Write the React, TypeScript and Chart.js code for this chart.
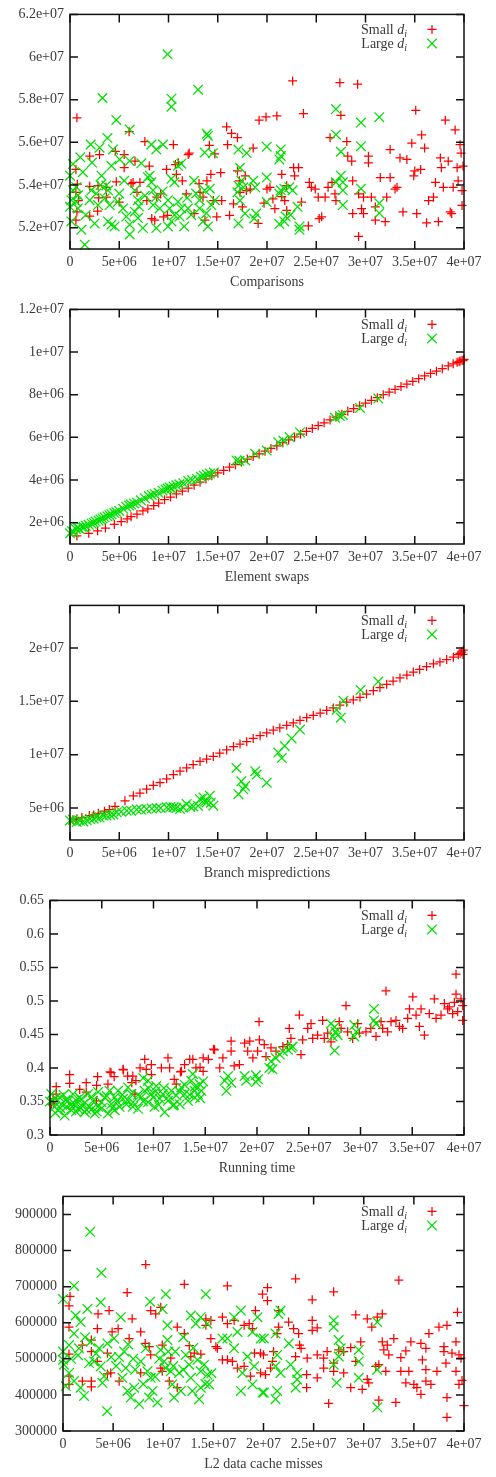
import React, { useEffect, useRef } from 'react';
import { Chart, registerables } from 'chart.js';

Chart.register(...registerables);

// ---------- shared axis data (x in units of 1e6) ----------
const xTicks = [0, 5, 10, 15, 20, 25, 30, 35, 40];
const xTickLabels = ['0', '5e+06', '1e+07', '1.5e+07', '2e+07', '2.5e+07', '3e+07', '3.5e+07', '4e+07'];
const seriesNames = ['Small', 'Large'];

// ---------- Panel 1: Comparisons (y in 1e6) ----------
const cmpYTicks = [52, 54, 56, 58, 60, 62];
const cmpYLabels = ['5.2e+07', '5.4e+07', '5.6e+07', '5.8e+07', '6e+07', '6.2e+07'];
const cmpSmall: number[][] = [
  [0.7,57.15],[0.6,54.73],[0.75,54.04],[0.6,53.66],[0.85,53.27],[0.7,52.74],[0.6,52.35],
  [2.0,55.35],[2.0,53.94],[2.0,52.54],[2.9,53.4],[2.8,52.78],[3.0,55.43],[2.85,53.97],
  [3.65,53.89],[3.7,53.43],[4.6,55.58],[4.7,54.15],[5.0,53.2],[5.5,55.43],[5.5,54.81],[6.0,56.5],[6.2,54.07],
  [6.6,55.12],[6.4,54.12],[6.8,53.66],[7.1,54.12],[7.6,56.04],[7.8,53.27],[8.05,54.89],
  [8.3,52.43],[8.6,52.35],[8.8,53.43],[9.2,53.58],[9.8,54.73],[9.5,52.51],
  [9.9,52.58],[10.5,55.89],[10.7,54.96],[10.8,54.5],[11.0,55.04],[11.4,54.2],[12.1,55.5],[11.8,53.58],
  [12.0,55.43],[12.6,52.66],[13.1,54.07],[13.2,53.66],[13.5,53.43],[13.9,54.2],[13.7,52.35],[14.15,55.86],[14.3,54.5],[14.55,53.27],[14.9,52.51],[14.7,55.46],
  [15.3,54.58],[15.4,53.27],[15.9,56.73],[16.0,55.89],[16.2,52.58],[16.4,56.42],[16.6,53.12],[17.0,56.22],[17.2,54.2],[17.0,54.66],[17.26,53.66],
  [17.5,52.97],[17.8,54.43],[17.9,53.74],[18.3,53.81],[18.6,55.73],[19.1,52.2],[19.2,57.04],[19.9,57.19],[19.7,53.15],[20.0,53.81],
  [20.3,53.89],[20.6,53.35],[20.8,52.89],[21.0,57.24],[21.5,54.5],[21.5,53.46],[21.8,53.27],[22.0,52.81],[22.0,53.97],
  [22.6,58.88],[22.7,54.81],[22.8,54.43],[23.2,54.81],[23.7,57.35],[23.5,53.2],[24.2,52.08],[24.3,54.12],[24.5,53.89],
  [24.9,53.81],[25.2,53.43],[25.3,52.43],[25.55,52.51],[25.9,53.43],[26.2,53.89],[26.4,56.22],[26.6,54.12],
  [26.9,53.58],[27.0,53.27],[27.4,58.8],[27.5,57.27],[28.1,56.04],[28.2,55.35],[28.6,55.12],[28.7,54.2],[28.7,52.66],
  [29.2,58.73],[29.3,51.59],[29.3,53.58],[29.6,52.89],[29.8,52.66],[29.8,53.43],[30.3,55.35],[30.3,55.04],[30.6,53.43],[31.0,52.35],[31.0,52.97],
  [31.5,54.35],[32.0,52.28],[32.15,53.43],[32.5,55.66],[32.5,54.35],[33.0,53.81],[33.2,53.89],[33.5,55.27],
  [33.8,52.74],[34.2,55.2],[34.7,55.96],[34.9,54.43],[35.0,54.66],[35.2,52.66],[35.1,57.5],[35.6,54.73],
  [35.7,56.35],[36.0,55.73],[36.2,52.23],[36.4,53.27],[36.9,53.43],[37.1,54.12],[37.4,52.28],[37.6,55.27],[37.7,54.81],[37.9,53.89],
  [38.1,57.04],[38.4,55.12],[38.6,52.74],[38.75,52.66],[38.9,53.89],[39.1,56.58],[39.3,54.81],[39.4,54.2],[39.6,55.89],[39.7,55.5],[39.8,53.74],[39.9,54.89],[39.8,53.04]
];
const cmpLarge: number[][] = [
  [9.9,60.13],[13.0,58.47],[3.3,58.08],[10.3,58.05],[10.3,57.67],[4.7,57.05],[6.06,56.6],[13.9,56.4],[14.0,56.3],[3.8,56.2],
  [2.1,55.9],[3.0,55.75],[8.26,55.9],[9.44,55.9],[8.76,55.67],[4.37,55.67],[13.67,55.52],[1.05,55.3],[0.3,54.98],[2.23,55.05],
  [5.04,55.2],[4.2,54.9],[6.06,55.13],[7.24,55.02],[11.3,55.0],[14.5,55.49],[1.3,54.6],[0,54.44],[3.2,54.44],[8.1,54.44],
  [8.26,54.13],[10.3,54.29],[10.6,54.13],[10.96,54.9],
  [0.64,53.9],[0.3,53.75],[0.81,53.52],[0.14,53.29],[0.64,53.21],[0,52.98],[0.81,52.9],[0.14,52.29],[1.15,51.9],[1.5,51.2],
  [2.17,53.75],[2.0,53.29],[2.67,53.6],[2.84,53.06],[3.69,53.98],[3.86,53.75],[3.52,53.37],[4.03,53.06],[4.2,52.14],[4.53,52.06],
  [3.86,52.29],[4.87,53.21],[5.38,52.9],[5.72,52.52],[6.06,52.14],[6.06,51.68],[6.57,53.75],[6.9,53.29],[6.57,52.75],[6.9,52.45],
  [7.4,51.98],[7.9,54.37],[8.43,53.75],[8.76,53.44],[8.43,53.06],[9.1,52.9],[8.76,51.98],[9.95,53.29],[10.1,52.9],[10.6,52.6],
  [10.3,52.29],[9.95,52.06],[10.96,53.21],[11.3,52.9],[11.13,52.52],[11.98,52.9],[12.3,52.6],[11.6,52.06],[12.8,53.6],[13.16,53.29],
  [13.67,53.75],[13.16,52.9],[13.84,52.68],[13.5,52.29],[14.0,52.06],[14.35,53.06],[14.7,53.29],[14.2,53.83],
  [1.6,52.6],[2.5,52.2],[3.1,54.0],[5.0,53.6],[5.5,54.2],[7.0,53.0],[7.6,53.5],[9.4,53.7],[11.9,53.4],[12.6,54.2],
  [17.1,55.66],[17.26,54.81],[17.4,54.2],[17.1,53.97],[17.0,53.66],[17.26,53.27],[17.6,53.89],[17.77,52.66],[17.1,52.2],[17.94,55.5],
  [18.6,54.2],[18.8,53.89],[18.9,52.66],[18.7,52.43],[19.97,55.8],[19.97,54.35],[19.97,53.2],
  [21.4,55.67],[21.4,55.36],[21.25,55.2],[21.4,53.75],[21.25,53.6],[21.76,53.83],[22.27,53.9],[22.6,53.75],[21.9,52.52],[21.76,52.29],
  [21.25,52.17],[22.4,52.6],[23.1,52.98],[23.3,52.06],[23.3,51.9],[27.0,57.56],[27.0,56.36],[27.5,55.56],[27.0,54.13],[27.5,54.44],
  [27.7,54.13],[27.7,53.75],[27.7,53.06],[29.54,56.93],[29.54,55.82],[29.54,53.83],[31.4,57.18],[31.4,53.14],[31.4,52.68]
];

// ---------- Panel 2: Element swaps (y in 1e6) ----------
const swapYTicks = [2, 4, 6, 8, 10, 12];
const swapYLabels = ['2e+06', '4e+06', '6e+06', '8e+06', '1e+07', '1.2e+07'];
const swapSmall: number[][] = [
  [0.7,1.38],[1.9,1.5],[2.8,1.62],[3.6,1.75],[4.5,1.92],[5.2,2.05],[5.8,2.18],[6.2,2.28],[6.8,2.4],[7.4,2.55],
  [7.9,2.65],[8.5,2.8],[9.0,2.92],[9.6,3.08],[10.2,3.2],[10.8,3.35],[11.4,3.48],[12.0,3.62],[12.6,3.76],[13.2,3.9],
  [13.8,4.05],[14.4,4.2],[15.0,4.33],[15.6,4.45],[16.2,4.6],[16.8,4.72],[17.4,4.85],[18.0,4.98],[18.6,5.1],[19.2,5.22],
  [19.8,5.35],[20.4,5.48],[21.0,5.6],[21.6,5.75],[22.2,5.88],[22.8,6.02],[23.4,6.15],[24.0,6.28],[24.6,6.42],[25.2,6.55],
  [25.8,6.68],[26.4,6.82],[27.0,6.95],[27.6,7.08],[28.2,7.22],[28.8,7.35],[29.4,7.48],[30.0,7.6],[30.6,7.74],[31.2,7.86],
  [31.8,8.0],[32.4,8.12],[33.0,8.25],[33.6,8.38],[34.2,8.5],[34.8,8.62],[35.4,8.75],[36.0,8.88],[36.6,9.0],[37.2,9.1],
  [37.8,9.22],[38.4,9.35],[38.9,9.45],[39.3,9.52],[39.6,9.58],[39.8,9.62],[40.0,9.66],[39.9,9.6],[39.5,9.55]
];
const swapLarge: number[][] = [
  [0,1.5],[0.2,1.6],[0.4,1.55],[0.6,1.7],[0.8,1.75],[1.0,1.7],[1.2,1.8],[1.4,1.78],[1.6,1.85],[1.9,1.9],
  [2.2,1.95],[2.4,2.0],[2.6,2.05],[2.9,2.1],[3.1,2.15],[3.3,2.2],[3.5,2.25],[3.8,2.3],[4.0,2.35],[4.2,2.4],
  [4.5,2.45],[4.7,2.5],[5.0,2.55],[5.4,2.65],[5.7,2.75],[6.0,2.8],[6.2,2.85],[6.5,2.9],[6.8,2.95],[7.2,3.05],
  [7.6,3.15],[8.0,3.25],[8.3,3.3],[8.6,3.35],[9.0,3.4],[9.4,3.5],[9.7,3.55],[9.9,3.6],[10.1,3.65],[10.3,3.6],
  [10.5,3.7],[10.8,3.75],[11.1,3.8],[11.5,3.85],[12.0,3.95],[12.4,4.0],[12.9,4.05],[13.3,4.15],[13.6,4.2],[13.9,4.25],
  [14.2,4.3],[14.6,4.35],
  [16.9,4.92],[17.2,4.9],[17.8,4.92],[18.8,5.23],[19.97,5.38],[21.15,5.77],[21.66,5.85],[22.3,6.0],[23.35,6.23],
  [26.9,6.92],[27.4,7.0],[27.7,7.05],[29.44,7.38],[31.3,7.82]
];

// ---------- Panel 3: Branch mispredictions (y in 1e6) ----------
const brYTicks = [5, 10, 15, 20];
const brYLabels = ['5e+06', '1e+07', '1.5e+07', '2e+07'];
const brSmall: number[][] = [
  [0.3,3.9],[0.68,3.98],[1.2,4.1],[1.96,4.29],[2.4,4.35],[2.88,4.5],[3.5,4.7],[4.0,4.85],[4.57,5.15],[5.58,5.68],
  [6.43,6.14],[7.1,6.4],[7.78,6.76],[8.46,7.13],[9.14,7.37],[9.81,7.74],[10.5,8.14],[11.17,8.45],[11.84,8.76],[12.5,9.07],
  [13.2,9.37],[13.87,9.59],[14.55,9.84],[15.2,10.14],[15.9,10.45],[16.6,10.76],[17.26,11.0],[17.94,11.22],[18.6,11.53],[19.3,11.78],
  [19.97,12.05],[20.64,12.3],[21.3,12.51],[22.0,12.76],[22.67,12.98],[23.35,13.22],[24.03,13.47],[24.7,13.68],[25.4,13.9],[26.06,14.15],
  [26.73,14.39],[27.4,14.64],[28.09,14.92],[28.76,15.13],[29.44,15.38],[30.1,15.69],[30.8,16.0],[31.47,16.3],[32.15,16.6],[32.8,16.9],
  [33.5,17.2],[34.2,17.47],[34.86,17.75],[35.5,18.0],[36.2,18.27],[36.9,18.52],[37.56,18.7],[38.24,18.92],[38.92,19.14],[39.42,19.38],
  [39.76,19.63],[39.93,19.81],[39.9,19.4],[39.6,19.5]
];
const brLarge: number[][] = [
  [0,3.83],[0.3,3.9],[0.68,3.68],[1.0,3.8],[1.35,3.74],[1.7,3.85],[2.03,3.98],[2.4,4.0],[2.7,4.14],[3.0,4.1],
  [3.38,4.29],[3.7,4.3],[4.06,4.35],[4.4,4.4],[4.74,4.6],[5.2,4.65],[5.75,4.75],[6.2,4.75],[6.77,4.85],[7.2,4.85],
  [7.78,4.9],[8.3,4.95],[8.8,4.97],[9.2,5.0],[9.81,5.06],[10.2,5.1],[10.5,5.06],[10.8,5.0],[11.17,4.9],[11.5,5.05],
  [11.84,5.37],[12.2,5.1],[12.52,5.15],[13.0,5.2],[13.2,5.83],[13.54,5.99],[13.7,5.6],[13.87,5.52],[14.2,6.14],[14.3,5.5],[14.55,5.22],
  [16.9,8.76],[17.1,6.3],[17.4,7.5],[17.6,6.75],[17.77,7.06],[18.8,8.45],[18.95,8.14],[19.97,7.37],
  [21.15,10.2],[21.5,9.68],[21.8,10.82],[22.5,11.53],[23.35,12.36],
  [27.07,14.2],[27.5,13.47],[27.75,15.07],[29.5,16.07],[31.3,16.86]
];

// ---------- Panel 4: Running time ----------
const timeYTicks = [0.3, 0.35, 0.4, 0.45, 0.5, 0.55, 0.6, 0.65];
const timeYLabels = ['0.3', '0.35', '0.4', '0.45', '0.5', '0.55', '0.6', '0.65'];
const timeSmall: number[][] = [
  [1.9,0.39],[1.9,0.377],[0.6,0.372],[0.6,0.361],[0.3,0.354],[0.13,0.346],[2.87,0.368],[3.5,0.378],[3.5,0.364],[4.6,0.387],
  [4.5,0.374],[4.48,0.351],[5.6,0.376],[5.9,0.393],[6.2,0.387],[7.05,0.398],[7.5,0.388],[8.0,0.388],[7.9,0.378],[8.3,0.381],
  [8.2,0.361],[8.7,0.4],[9.3,0.398],[9.15,0.413],[9.8,0.405],[9.8,0.39],[10.76,0.4],[11.4,0.415],[11.56,0.4],[12.0,0.383],
  [12.2,0.376],[12.7,0.395],[13.0,0.405],[13.5,0.413],[13.8,0.413],[14.1,0.4],[14.8,0.395],[14.8,0.415],[15.3,0.413],[15.9,0.427],
  [16.4,0.4],[16.7,0.415],[17.5,0.44],[17.5,0.425],[17.8,0.403],[18.3,0.405],[18.8,0.437],[19.3,0.44],[19.1,0.425],[19.6,0.415],
  [5.8,0.394],[7.1,0.397],[12.6,0.394],[14.5,0.401],[15.8,0.428],[0.32,0.347],
  [20.2,0.469],[20.23,0.442],[20.06,0.425],[20.7,0.435],[20.87,0.417],[21.35,0.43],[21.84,0.425],[22.5,0.432],[22.96,0.435],[23.12,0.459],
  [23.28,0.444],[24.09,0.479],[24.25,0.42],[24.41,0.442],[24.9,0.459],[25.22,0.466],[25.38,0.444],[25.86,0.449],[26.34,0.471],[26.5,0.444],
  [26.83,0.452],[27.15,0.439],[27.95,0.469],[28.12,0.459],[28.6,0.493],[28.76,0.454],[29.24,0.444],[29.73,0.466],[29.9,0.452],[30.53,0.454],
  [31.0,0.459],[31.5,0.447],[31.98,0.469],[32.14,0.459],[32.46,0.515],[32.62,0.454],[32.95,0.469],[33.43,0.471],[33.76,0.462],[34.07,0.459],
  [34.56,0.474],[34.73,0.488],[35.05,0.506],[35.37,0.479],[35.69,0.462],[35.85,0.488],[36.17,0.449],[36.65,0.481],[37.13,0.503],[37.3,0.474],
  [37.78,0.479],[38.1,0.496],[38.42,0.488],[38.58,0.491],[38.9,0.481],[39.07,0.498],[39.23,0.54],[39.23,0.51],[39.39,0.484],[39.71,0.503],
  [39.87,0.493],[39.87,0.471]
];
const timeLarge: number[][] = [
  [0.13,0.361],[0.29,0.351],[0.45,0.342],[0.77,0.337],[0.93,0.356],[1.1,0.346],[1.42,0.329],[1.58,0.342],[1.74,0.351],[2.06,0.337],
  [2.22,0.361],[2.38,0.346],[2.7,0.339],[2.87,0.356],[3.19,0.346],[3.35,0.334],[3.67,0.361],[3.83,0.342],[4.15,0.351],[4.32,0.332],
  [4.64,0.364],[4.64,0.342],[4.96,0.349],[5.28,0.356],[5.6,0.332],[5.76,0.366],[5.93,0.346],[6.25,0.337],[6.25,0.356],[6.57,0.366],
  [6.73,0.342],[7.05,0.354],[7.38,0.346],[7.54,0.371],[7.86,0.361],[8.02,0.349],[8.5,0.339],[8.82,0.356],[9.15,0.366],[9.47,0.381],
  [9.47,0.349],[9.79,0.361],[10.1,0.342],[10.27,0.373],[10.6,0.354],[10.9,0.361],[11.08,0.334],[11.4,0.351],[11.72,0.366],[11.88,0.344],
  [12.2,0.359],[12.53,0.346],[12.69,0.371],[13.0,0.361],[13.33,0.351],[13.65,0.381],[13.8,0.391],[13.98,0.366],[14.3,0.361],[14.46,0.376],
  [13.98,0.356],[14.62,0.366],[0.0,0.35],[0.5,0.355],[1.3,0.36],[2.5,0.352],[3.0,0.34],[4.0,0.338],
  [0.5,0.333],[1.0,0.34],[1.5,0.352],[2.0,0.345],[2.5,0.335],[3.0,0.353],[3.5,0.338],[4.0,0.357],[4.5,0.335],[5.0,0.34],
  [5.5,0.358],[6.0,0.34],[6.5,0.35],[7.0,0.36],[7.5,0.352],[8.0,0.342],[8.5,0.36],[9.0,0.35],[9.5,0.37],[10.0,0.356],
  [10.5,0.345],[11.0,0.37],[11.5,0.358],[12.0,0.345],[12.5,0.365],[13.0,0.375],[13.5,0.36],[14.0,0.372],[14.5,0.355],[14.8,0.38],
  [10.2,0.365],[9.0,0.385],
  [16.88,0.381],[17.2,0.388],[17.04,0.366],[17.52,0.378],[18.8,0.388],[18.97,0.381],[19.9,0.389],[19.9,0.379],
  [20.1,0.383],[21.35,0.41],[21.2,0.4],[21.5,0.398],[21.8,0.415],[22.2,0.42],[22.5,0.425],[23.0,0.427],[23.3,0.43],[23.45,0.432],
  [27.15,0.466],[27.5,0.461],[27.6,0.454],[27.3,0.447],[27.8,0.449],[27.5,0.426],[29.4,0.464],[29.6,0.454],[29.4,0.447],
  [31.3,0.488],[31.3,0.471],[31.5,0.466]
];

// ---------- Panel 5: L2 data cache misses (y in 1e3) ----------
const l2YTicks = [300, 400, 500, 600, 700, 800, 900];
const l2YLabels = ['300000', '400000', '500000', '600000', '700000', '800000', '900000'];
const l2Small: number[][] = [
  [0.7,672.7],[0.6,647],[0.6,588],[0.6,452],[0.6,429],[0.6,513],[1.93,538],[1.93,438],[2.83,552],[2.83,520],
  [2.83,438],[2.83,422],[3.5,624.5],[3.43,583.6],[3.43,492.7],[4.6,633.6],[4.43,515.5],[4.43,458],[4.9,574.5],[4.76,461],
  [5.6,438],[6.4,683.6],[6.6,556],[6.9,611],[5.5,583.6],[7.75,574.5],[8.25,761],[7.75,461],[8.2,542.7],[8.6,533.6],
  [8.75,511],[8.75,633.6],[9.25,624.5],[9.75,642.7],[9.9,538],[9.75,474.5],[9.9,465.5],[10.6,438],[10.75,501.8],[11.4,588],
  [11.4,420],[12.1,706.4],[12.1,570],[12.6,536.4],[12.75,506.4],[13.1,515.5],[13.75,512.7],[14.25,611],[14.25,592.7],[14.75,606.4],
  [14.75,556],[15.25,533.6],[15.4,529],[15.9,615.5],[16.4,701.8],[16.4,597.3],[17.07,606.4],[15.9,497.3],[16.4,497.3],[16.9,492.7],
  [17.4,474.5],[18.07,479],[18.07,592.7],[18.57,597.3],[18.9,583.6],[19.2,633.6],[18.7,451.8],[19.1,515.5],[19.7,515.5],[19.7,461],
  [19.9,679],
  [20.4,697],[20.4,661],[20.0,511],[21.5,633.6],[21.5,588],[21.36,570],[21.0,520],[20.9,492.7],[20.7,474.5],[20.2,456.4],
  [23.2,721.8],[22.5,601.8],[23.0,583.6],[23.5,570],[23.6,538],[23.75,529],[23.2,506.4],[24.36,501.8],[24.3,456.4],[24.3,420],
  [24.86,663.6],[24.86,606.4],[24.86,579],[25.36,585.5],[25.36,511],[25.36,447.3],[26.0,501.8],[26.0,474.5],[26.35,520],[26.5,376.4],
  [27.0,685.5],[27.0,488],[27.0,465.5],[27.5,524.5],[28.0,520],[28.0,461],[28.7,531],[28.7,420],[29.2,621.8],[29.2,492.7],
  [29.7,547],[29.85,415.5],[30.35,611],[30.35,442.7],[30.5,433.6],[30.8,588],[31.2,479],[31.5,483.6],[31.35,615.5],[31.85,624.5],
  [31.5,385.5],[31.85,547],[32.0,524.5],[32.35,538],[32.5,511],[32.2,465.5],[33.0,556],[33.2,379],[33.5,718],[33.7,503.6],
  [33.7,465.5],[34.2,521.8],[34.2,433.6],[34.7,547],[34.5,465.5],[35.0,429],[35.3,420],[35.7,401.8],[35.85,497],[35.7,542.7],
  [36.2,529],[36.5,570],[36.2,470],[36.2,438],[36.7,429],[37.3,465.5],[37.5,588],[38.0,533.6],[38.0,520],[38.3,592.7],
  [38.2,488],[38.3,392.7],[38.3,338],[38.8,515.5],[39.2,547],[39.35,629],[39.2,465.5],[39.5,511],[39.7,501.8],[39.5,429],
  [39.8,440],[40.0,370]
];
const l2Large: number[][] = [
  [0,665.5],[1.1,701.8],[2.7,851.8],[3.83,738.2],[3.76,656.4],[2.43,638.2],[1.26,620],[1.76,601.8],[1.1,570],[0.6,538.2],
  [0,520],[0.1,483.6],[0.6,460.9],[1.1,438.2],[1.76,420],[2.1,397.3],[0.27,424.5],[0,497.3],[1.6,529],[2.76,547.3],
  [3.6,529],[3.1,492.7],[2.6,488.2],[3.76,479],[4.1,451.8],[3.93,433.6],[4.43,542.7],[5.1,556.4],[5.76,615.5],[6.1,520],
  [6.26,474.5],[5.92,447.3],[6.42,410.9],[6.76,392.7],[7.1,420],[7.6,374.5],[7.75,492.7],[8.25,529],[8.42,465.5],[8.75,447.3],
  [8.92,410.9],[8.6,392.7],[9.42,379.1],[8.69,658.2],[10.25,679.1],[9.92,638.2],[10.42,592.7],[10.42,551.8],[9.75,524.5],[10.08,492.7],
  [10.25,474.5],[10.75,465.5],[10.9,429.1],[11.58,460.9],[11.75,410.9],[11.08,392.7],[12.25,510.9],[12.58,483.6],[12.75,447.3],[12.9,410.9],
  [13.41,497.3],[13.74,465.5],[14.08,483.6],[13.74,420],[13.58,388.2],[14.24,679.1],[14.4,456.4],[14.58,429.1],[12.75,620],[13.74,615.5],
  [13.24,597.3],[14.4,597.3],[4.4,355],[5.6,505],[7.2,470],[9.2,450],[11.2,520],[12.0,560],
  [0.8,500],[1.5,510],[2.2,560],[3.3,515],[4.8,505],[5.3,480],[6.5,540],[7.0,500],[8.0,430],[9.6,500],
  [10.5,520],[11.0,480],[12.0,470],[13.0,530],[14.2,430],[14.8,460],
  [15.9,556.4],[16.4,556.4],[17.07,615.5],[17.4,574.5],[17.74,633.6],[17.07,529.1],[17.74,410.9],[17.9,460.9],[18.4,506.4],[18.9,429.1],
  [18.9,574.5],[19.4,615.5],[19.73,556.4],[19.9,406.4],[19.07,479.1],
  [20.03,556.4],[20.03,406.4],[21.2,570],[21.36,510.9],[21.2,479.1],[21.7,633.6],[21.5,624.5],[21.7,460.9],[21.36,410.9],[21.2,388.2],
  [22.53,542.7],[22.7,483.6],[23.36,460.9],[23.36,442.7],[23.2,420],
  [27.0,606.4],[27.0,588.2],[27.5,551.8],[27.7,529.1],[27.5,506.4],[27.0,483.6],[27.3,433.6],[29.5,524.5],[29.5,492.7],[29.5,447.3],
  [31.35,601.8],[31.35,470],[31.35,365.5]
];

// ---------- panel table ----------
const panels = [
  { title: 'Comparisons', small: cmpSmall, large: cmpLarge, yMin: 51, yMax: 62, yTicks: cmpYTicks, yLabels: cmpYLabels, left: 70 },
  { title: 'Element swaps', small: swapSmall, large: swapLarge, yMin: 1, yMax: 12, yTicks: swapYTicks, yLabels: swapYLabels, left: 70 },
  { title: 'Branch mispredictions', small: brSmall, large: brLarge, yMin: 2, yMax: 24, yTicks: brYTicks, yLabels: brYLabels, left: 70 },
  { title: 'Running time', small: timeSmall, large: timeLarge, yMin: 0.3, yMax: 0.65, yTicks: timeYTicks, yLabels: timeYLabels, left: 50 },
  { title: 'L2 data cache misses', small: l2Small, large: l2Large, yMin: 300, yMax: 950, yTicks: l2YTicks, yLabels: l2YLabels, left: 63 },
];

const FONT = '"Liberation Serif", "Times New Roman", serif';
const TEXT = '#3a3a3a';
const RED = '#ff0000';
const GREEN = '#00e000';
const PANEL_TOPS = [0, 295, 591, 886, 1182];
const CANVAS_H = 295;
const PLUS_R = 4.5;
const CROSS_R = 6.8;
const MARK_W = 1.25;

function drawMarker(ctx: CanvasRenderingContext2D, kind: 'plus' | 'cross', x: number, y: number, color: string) {
  ctx.save();
  ctx.strokeStyle = color;
  ctx.lineWidth = MARK_W;
  ctx.beginPath();
  if (kind === 'plus') {
    const r = PLUS_R;
    ctx.moveTo(x - r, y); ctx.lineTo(x + r, y);
    ctx.moveTo(x, y - r); ctx.lineTo(x, y + r);
  } else {
    const r = CROSS_R * Math.SQRT1_2;
    ctx.moveTo(x - r, y - r); ctx.lineTo(x + r, y + r);
    ctx.moveTo(x - r, y + r); ctx.lineTo(x + r, y - r);
  }
  ctx.stroke();
  ctx.restore();
}

const framePlugin = {
  id: 'gnuplotFrame',
  afterDatasetsDraw(chart: any) {
    const { ctx, chartArea: a, scales } = chart;
    ctx.save();
    ctx.strokeStyle = '#111111';
    ctx.lineWidth = 1.5;
    const T = 8;
    ctx.beginPath();
    for (const t of scales.x.ticks) {
      const px = scales.x.getPixelForValue(t.value);
      ctx.moveTo(px, a.bottom); ctx.lineTo(px, a.bottom - T);
      ctx.moveTo(px, a.top); ctx.lineTo(px, a.top + T);
    }
    for (const t of scales.y.ticks) {
      const py = scales.y.getPixelForValue(t.value);
      ctx.moveTo(a.left, py); ctx.lineTo(a.left + T, py);
      ctx.moveTo(a.right, py); ctx.lineTo(a.right - T, py);
    }
    ctx.stroke();
    ctx.strokeRect(a.left, a.top, a.right - a.left, a.bottom - a.top);

    // legend: "Small d_i" / "Large d_i"
    const textRight = a.right - 57;
    const markerX = a.right - 32;
    const rows = [a.top + 15, a.top + 29];
    const kinds: ('plus' | 'cross')[] = ['plus', 'cross'];
    const colors = [RED, GREEN];
    ctx.fillStyle = TEXT;
    ctx.textBaseline = 'alphabetic';
    ctx.textAlign = 'left';
    seriesNames.forEach((name, i) => {
      const y = rows[i];
      const base = y + 4.5;
      ctx.font = `14px ${FONT}`;
      const w1 = ctx.measureText(name + ' ').width;
      ctx.font = `italic 14px ${FONT}`;
      const w2 = ctx.measureText('d').width;
      ctx.font = `italic 10px ${FONT}`;
      const w3 = ctx.measureText('i').width;
      let x = textRight - (w1 + w2 + w3);
      ctx.font = `14px ${FONT}`;
      ctx.fillText(name + ' ', x, base);
      x += w1;
      ctx.font = `italic 14px ${FONT}`;
      ctx.fillText('d', x, base);
      x += w2;
      ctx.font = `italic 10px ${FONT}`;
      ctx.fillText('i', x, base + 3);
      drawMarker(ctx, kinds[i], markerX, y, colors[i]);
    });
    ctx.restore();
  },
};

function Panel({ idx }: { idx: number }) {
  const ref = useRef<HTMLCanvasElement>(null);
  useEffect(() => {
    const p = panels[idx];
    const chart = new Chart(ref.current as HTMLCanvasElement, {
      type: 'scatter',
      data: {
        datasets: [
          {
            label: seriesNames[0],
            data: p.small.map(([x, y]) => ({ x, y })),
            pointStyle: 'cross',
            pointRadius: PLUS_R,
            pointHoverRadius: PLUS_R,
            borderColor: RED,
            backgroundColor: RED,
            borderWidth: MARK_W,
            order: 1,
            clip: false,
          } as any,
          {
            label: seriesNames[1],
            data: p.large.map(([x, y]) => ({ x, y })),
            pointStyle: 'crossRot',
            pointRadius: CROSS_R,
            pointHoverRadius: CROSS_R,
            borderColor: GREEN,
            backgroundColor: GREEN,
            borderWidth: MARK_W,
            order: 0,
            clip: false,
          } as any,
        ],
      },
      options: {
        animation: false,
        responsive: false,
        events: [],
        layout: { padding: { top: 10.7, right: 32, bottom: 0, left: 0 } },
        plugins: { legend: { display: false }, tooltip: { enabled: false } },
        scales: {
          x: {
            type: 'linear',
            min: 0,
            max: 40,
            grid: { display: false, drawTicks: false },
            border: { display: false },
            afterBuildTicks: (s: any) => { s.ticks = xTicks.map((v) => ({ value: v })); },
            ticks: {
              autoSkip: false,
              maxRotation: 0,
              padding: 5,
              color: TEXT,
              font: { family: FONT, size: 14 },
              callback: (_v: any, i: number) => xTickLabels[i],
            },
            title: {
              display: true,
              text: p.title,
              color: TEXT,
              font: { family: FONT, size: 14 },
              padding: { top: 0, bottom: 4 },
            },
            afterFit: (s: any) => { s.height = 46; },
          },
          y: {
            type: 'linear',
            min: p.yMin,
            max: p.yMax,
            grid: { display: false, drawTicks: false },
            border: { display: false },
            afterBuildTicks: (s: any) => { s.ticks = p.yTicks.map((v) => ({ value: v })); },
            ticks: {
              autoSkip: false,
              padding: 6,
              color: TEXT,
              font: { family: FONT, size: 14 },
              callback: (_v: any, i: number) => p.yLabels[i],
            },
            afterFit: (s: any) => { s.width = p.left; },
          },
        },
      } as any,
      plugins: [framePlugin],
    });
    return () => chart.destroy();
  }, [idx]);
  return (
    <canvas
      ref={ref}
      width={496}
      height={CANVAS_H}
      style={{ position: 'absolute', left: 0, top: PANEL_TOPS[idx], width: 496, height: CANVAS_H, display: 'block' }}
    />
  );
}

export default function App() {
  return (
    <div style={{ position: 'absolute', left: 0, top: 0, width: 496, height: 1477, background: '#ffffff' }}>
      {panels.map((_, i) => (
        <Panel key={i} idx={i} />
      ))}
    </div>
  );
}
